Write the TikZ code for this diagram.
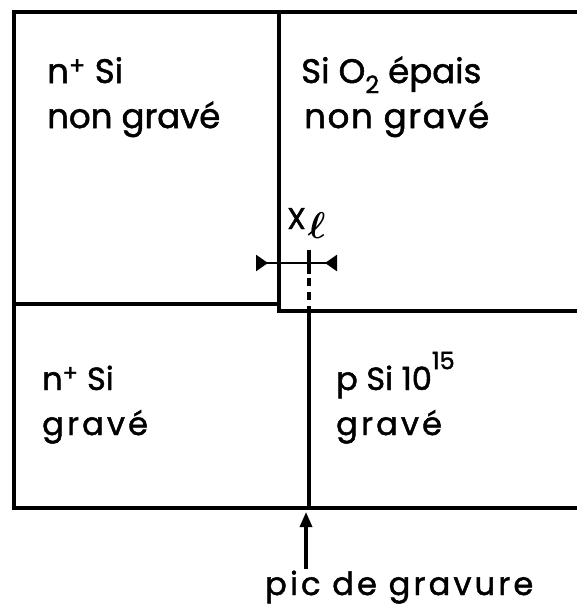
\documentclass[tikz,border=0pt]{standalone}
\usepackage{amsmath}
\usepackage{fontspec}
\setmainfont{Poppins}[FakeBold=1.5]
\usetikzlibrary{arrows.meta}
\begin{document}
\begin{tikzpicture}[x=1pt,y=-1pt,
  wall/.style={line width=3.6pt, line join=miter},
  dimline/.style={line width=2.4pt},
  label/.style={anchor=base west, inner sep=0pt, font=\fontsize{34}{40}\selectfont},
  lowlabel/.style={anchor=base west, inner sep=0pt, font=\fontsize{32}{38}\selectfont},
  note/.style={anchor=base west, inner sep=0pt, font=\fontsize{32}{36}\selectfont\addfontfeatures{LetterSpace=10}},
]
\useasboundingbox (0,0) rectangle (576,610);
% corner coordinates
\coordinate (tl) at (14,12);
\coordinate (tr) at (590,12);
\coordinate (bl) at (14,508);
\coordinate (br) at (590,508);
\coordinate (mtop) at (279,12);
\coordinate (mcorner) at (279,311);
\coordinate (mright) at (590,311);
\coordinate (lmid) at (14,304);
\coordinate (lmidr) at (279,304);
\coordinate (pictop) at (309,311);
\coordinate (picbot) at (309,508);
\coordinate (ticktop) at (309,250);
\coordinate (tickmid) at (309,274);
\coordinate (dimL) at (256,263);
\coordinate (dimR) at (337,263);
\coordinate (arrS) at (306,569);
\coordinate (arrE) at (306,512);
% outline
\draw[wall] (tr) -- (tl) -- (bl) -- (br);
\draw[wall] (mtop) -- (mcorner) -- (mright);
\draw[wall] (lmid) -- (lmidr);
\draw[wall] (pictop) -- (picbot);
% dimension X_l
\draw[line width=3.4pt] (ticktop) -- (tickmid);
\draw[line width=3.4pt, dash pattern=on 8pt off 6pt] (tickmid) ++(0,4) -- (pictop);
\draw[dimline, {Triangle[reversed,length=12pt,width=16pt]}-{Triangle[reversed,length=12pt,width=16pt]}] (dimL) -- (dimR);
\node[anchor=base west, inner sep=0pt, font=\fontsize{30}{34}\selectfont] (xl) at (287,229) {X\kern2pt\raisebox{-9pt}{\scalebox{1.5}{$\boldsymbol{\ell}$}}};
% labels
\node[label] (a1) at (47,83) {n\textsuperscript{+} Si};
\node[label] (a2) at (47,128) {non gravé};
\node[label] (b1) at (301,83) {Si O\raisebox{-0.3em}{\fontsize{24}{26}\selectfont 2} épais};
\node[label] (b2) at (304,128) {\addfontfeatures{LetterSpace=5}non gravé};
\node[lowlabel] (c1) at (42,390) {n\textsuperscript{+} Si};
\node[lowlabel] (c2) at (42,435) {\addfontfeatures{LetterSpace=10}gravé};
\node[lowlabel] (d1) at (336,390) {p Si 10\raisebox{0.65em}{\fontsize{24}{26}\selectfont 15}};
\node[lowlabel] (d2) at (336,435) {\addfontfeatures{LetterSpace=10}gravé};
\node[note] (pic) at (265,595) {pic de gravure};
\draw[line width=3.2pt, -{Triangle[length=15pt,width=12pt]}] (arrS) -- (arrE);
\end{tikzpicture}
\end{document}
